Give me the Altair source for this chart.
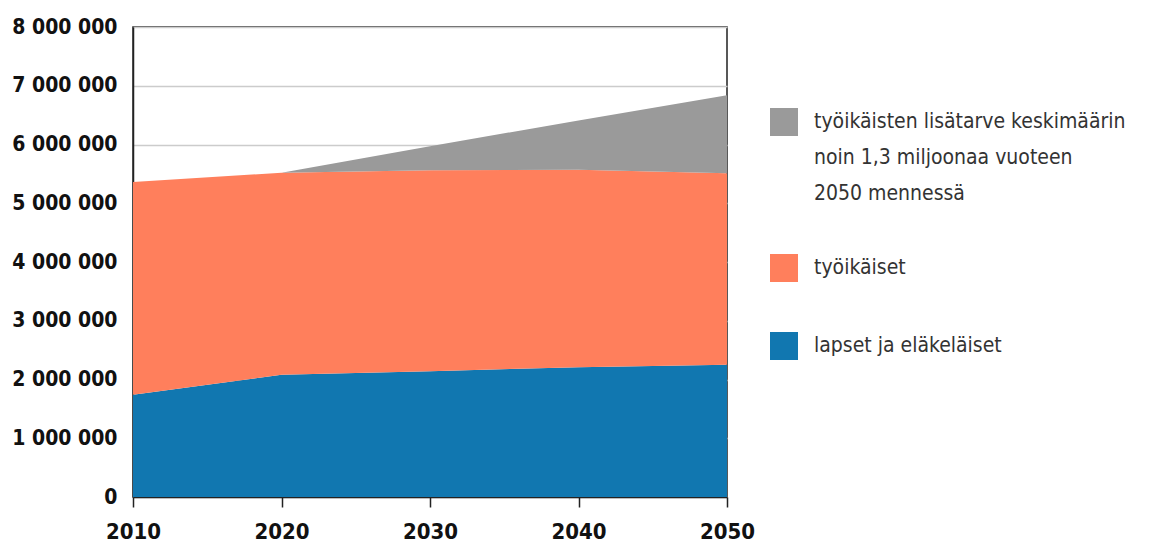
import altair as alt
import pandas as pd

years = [2010, 2020, 2030, 2040, 2050]
lapset = [1740000, 2080000, 2140000, 2210000, 2250000]
tyoikaiset = [3620000, 3440000, 3420000, 3360000, 3260000]
lisatarve = [0, 0, 410000, 840000, 1330000]

series = [
    "työikäisten lisätarve keskimäärin|noin 1,3 miljoonaa vuoteen|2050 mennessä",
    "työikäiset",
    "lapset ja eläkeläiset",
]
colors = ["#9a9a9a", "#ff7f5c", "#1177b0"]

rows = []
for i, y in enumerate(years):
    rows.append({"year": y, "group": series[2], "value": lapset[i], "ord": 0})
    rows.append({"year": y, "group": series[1], "value": tyoikaiset[i], "ord": 1})
    rows.append({"year": y, "group": series[0], "value": lisatarve[i], "ord": 2})
df = pd.DataFrame(rows)

FONT = "DejaVu Sans Condensed, DejaVu Sans, sans-serif"

chart = alt.Chart(df).mark_area(opacity=1, interpolate="linear").encode(
    x=alt.X("year:Q",
            scale=alt.Scale(domain=[2010, 2050], nice=False, zero=False),
            axis=alt.Axis(values=years, format="d", title=None, grid=False,
                          labelFont=FONT, labelFontSize=22, labelFontWeight="bold",
                          labelColor="#111", labelPadding=14, tickSize=10,
                          tickColor="#222", domainColor="#222", domainWidth=1.5,
                          tickWidth=1.5, labelFlush=False)),
    y=alt.Y("value:Q", stack="zero",
            scale=alt.Scale(domain=[0, 8000000], nice=False),
            axis=alt.Axis(values=[i * 1000000 for i in range(9)], title=None,
                          labelExpr="replace(format(datum.value, ',d'), regexp(',', 'g'), ' ')",
                          labelFont=FONT, labelFontSize=21, labelFontWeight="bold",
                          labelColor="#111", labelPadding=16, ticks=False,
                          domainColor="#222", domainWidth=1.5,
                          gridColor="#cccccc", gridWidth=1.5)),
    color=alt.Color("group:N",
                    scale=alt.Scale(domain=series, range=colors),
                    legend=alt.Legend(title=None, orient="none", legendX=637, legendY=81,
                                      symbolType="square", symbolSize=784,
                                      symbolStrokeWidth=0, symbolOpacity=1,
                                      labelExpr="split(datum.label, '|')",
                                      labelFont=FONT, labelFontSize=21,
                                      labelColor="#333", labelOffset=16,
                                      labelLimit=400, rowPadding=50,
                                      labelBaseline="middle")),
    order=alt.Order("ord:Q"),
).properties(
    width=594, height=470,
    padding={"left": 3, "top": 8, "right": 5, "bottom": 5},
).configure(
    style={"guide-label": {"lineHeight": 36}},
    view=alt.ViewConfig(stroke="#222", strokeWidth=1.5),
)

chart.save("out.html", embed_options={"renderer": "svg", "actions": False})
